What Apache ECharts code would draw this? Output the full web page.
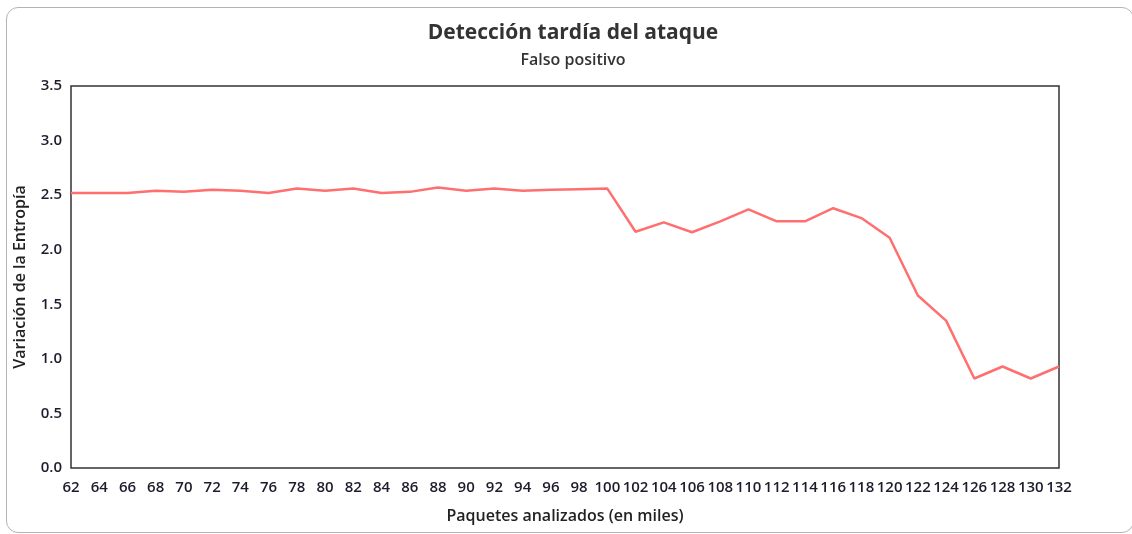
<!DOCTYPE html>
<html>
<head>
<meta charset="utf-8">
<script src="https://cdn.jsdelivr.net/npm/echarts@6/dist/echarts.min.js"></script>
<style>
    html, body { margin: 0; padding: 0; background: #fff; overflow: hidden; }
    #card {
        position: absolute; left: 6px; top: 7px; width: 1128px; height: 526px;
        border: 1px solid #b4b4b4; border-radius: 12px; box-sizing: border-box;
    }
    #main { position: absolute; left: 0; top: 0; width: 1132px; height: 534px; }
</style>
</head>
<body>
<div id="card"></div>
<div id="main"></div>
<script>
var paquetes = ['62', '64', '66', '68', '70', '72', '74', '76', '78', '80', '82', '84',
    '86', '88', '90', '92', '94', '96', '98', '100', '102', '104', '106', '108',
    '110', '112', '114', '116', '118', '120', '122', '124', '126', '128', '130', '132'];
var entropia = [2.52, 2.52, 2.52, 2.54, 2.53, 2.55, 2.54, 2.52, 2.56, 2.54, 2.56, 2.52,
    2.53, 2.57, 2.54, 2.56, 2.54, 2.55, 2.555, 2.56, 2.165, 2.25, 2.16, 2.26,
    2.37, 2.26, 2.26, 2.38, 2.29, 2.11, 1.58, 1.35, 0.82, 0.93, 0.82, 0.93];

var fuente = '"Open Sans", "Noto Sans", sans-serif';

var option = {
    animation: false,
    title: {
        text: 'Detección tardía del ataque',
        subtext: 'Falso positivo',
        left: 568,
        textAlign: 'center',
        top: 18,
        itemGap: 8,
        textStyle: {
            fontFamily: fuente,
            fontSize: 21,
            fontWeight: 'bold',
            color: '#333'
        },
        subtextStyle: {
            fontFamily: fuente,
            fontSize: 16,
            fontWeight: 600,
            color: '#333'
        }
    },
    grid: {
        left: 71,
        right: 73,
        top: 86,
        bottom: 66,
        show: true,
        borderColor: '#333',
        borderWidth: 1.5,
        backgroundColor: '#fff'
    },
    xAxis: {
        type: 'category',
        data: paquetes,
        boundaryGap: false,
        name: 'Paquetes analizados (en miles)',
        nameLocation: 'middle',
        nameGap: 40,
        nameTextStyle: { fontFamily: fuente, fontSize: 16, fontWeight: 600, color: '#222' },
        axisLine: { show: false },
        axisTick: { show: false },
        axisLabel: { interval: 0, margin: 12, fontFamily: fuente, fontSize: 15, fontWeight: 600, color: '#1c1c2c' },
        splitLine: { show: false }
    },
    yAxis: {
        type: 'value',
        min: 0,
        max: 3.5,
        interval: 0.5,
        name: 'Variación de la Entropía',
        nameLocation: 'middle',
        nameGap: 43,
        nameTextStyle: { fontFamily: fuente, fontSize: 16, fontWeight: 600, color: '#222' },
        axisLine: { show: false },
        axisTick: { show: false },
        axisLabel: {
            margin: 9,
            fontFamily: fuente,
            fontSize: 15,
            fontWeight: 600,
            color: '#1c1c2c',
            formatter: function (v) { return v.toFixed(1); }
        },
        splitLine: { show: false }
    },
    series: [{
        type: 'line',
        data: entropia,
        showSymbol: false,
        symbol: 'none',
        lineStyle: { color: '#ff6f6f', width: 2.5 },
        itemStyle: { color: '#ff6f6f' }
    }]
};

var chart = echarts.init(document.getElementById('main'), null, { renderer: 'canvas' });
chart.setOption(option);
</script>
</body>
</html>
